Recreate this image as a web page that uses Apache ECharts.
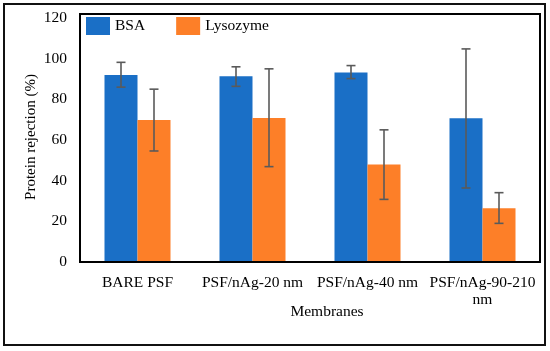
<!DOCTYPE html>
<html>
<head>
<meta charset="utf-8">
<script src="https://cdn.jsdelivr.net/npm/echarts@6/dist/echarts.min.js"></script>
<style>html,body{margin:0;padding:0;background:#fff}#c{width:550px;height:351px}</style>
</head>
<body>
<div id="c"></div>
<script>
var categories = ['BARE PSF', 'PSF/nAg-20 nm', 'PSF/nAg-40 nm', 'PSF/nAg-90-210\nnm'];
var bsa = [92, 91.3, 93.2, 70.7];
var bsaLow = [86, 86.4, 90.2, 36.4];
var bsaHigh = [98.2, 96, 96.6, 104.8];
var lyso = [69.8, 70.8, 48, 26.4];
var lysoLow = [54.6, 46.9, 30.8, 19];
var lysoHigh = [85, 95, 65, 34.1];
var yTicks = [0, 20, 40, 60, 80, 100, 120];

var FONT = '"Liberation Serif", "Times New Roman", serif';
var BLUE = '#1a6fc6';
var ORANGE = '#fd7f28';
var BAR_FRAC = 0.287;

function errSeries(low, high, side) {
  return {
    type: 'custom',
    z: 5,
    data: low.map(function (l, i) { return [i, l, high[i]]; }),
    renderItem: function (params, api) {
      var band = api.size([1, 0])[0];
      var off = side * band * BAR_FRAC / 2;
      var p1 = api.coord([api.value(0), api.value(1)]);
      var p2 = api.coord([api.value(0), api.value(2)]);
      var x = p1[0] + off;
      var cap = 4.5;
      var st = { stroke: '#5a5a5a', lineWidth: 1.6 };
      return {
        type: 'group',
        children: [
          { type: 'line', shape: { x1: x, y1: p1[1], x2: x, y2: p2[1] }, style: st },
          { type: 'line', shape: { x1: x - cap, y1: p1[1], x2: x + cap, y2: p1[1] }, style: st },
          { type: 'line', shape: { x1: x - cap, y1: p2[1], x2: x + cap, y2: p2[1] }, style: st }
        ]
      };
    }
  };
}

var chart = echarts.init(document.getElementById('c'));
chart.setOption({
  animation: false,
  backgroundColor: '#fff',
  grid: { left: 80, right: 10, top: 18, bottom: 89 },
  legend: {
    left: 86, top: 17, padding: 0,
    itemWidth: 24, itemHeight: 18, itemGap: 31,
    icon: 'rect',
    textStyle: { fontFamily: FONT, fontSize: 15.5, color: '#000', padding: [0, 0, 0, 0] },
    data: ['BSA', 'Lysozyme']
  },
  xAxis: {
    type: 'category',
    data: categories,
    axisLine: { show: false },
    axisTick: { show: false },
    axisLabel: { fontFamily: FONT, fontSize: 15.5, color: '#000', margin: 12, lineHeight: 17, interval: 0 }
  },
  yAxis: {
    type: 'value',
    min: yTicks[0], max: yTicks[yTicks.length - 1], interval: 20,
    splitLine: { show: false },
    axisLine: { show: false },
    axisTick: { show: false },
    axisLabel: { fontFamily: FONT, fontSize: 15.5, color: '#000', margin: 13 }
  },
  graphic: [
    { type: 'rect', shape: { x: 4, y: 4, width: 541, height: 341 }, style: { fill: 'none', stroke: '#111', lineWidth: 2 }, silent: true },
    { type: 'rect', shape: { x: 80, y: 14, width: 460, height: 248 }, style: { fill: 'none', stroke: '#000', lineWidth: 2 }, silent: true, z: 10 },
    { type: 'text', x: 31, y: 137, rotation: Math.PI / 2, style: { text: 'Protein rejection (%)', font: '15px ' + FONT, fill: '#000', align: 'center', verticalAlign: 'middle' } },
    { type: 'text', x: 327, y: 312, style: { text: 'Membranes', font: '15.5px ' + FONT, fill: '#000', align: 'center', verticalAlign: 'middle' } }
  ],
  series: [
    { name: 'BSA', type: 'bar', data: bsa, barWidth: (BAR_FRAC * 100) + '%', barGap: '0%', itemStyle: { color: BLUE } },
    { name: 'Lysozyme', type: 'bar', data: lyso, barWidth: (BAR_FRAC * 100) + '%', barGap: '0%', itemStyle: { color: ORANGE } },
    errSeries(bsaLow, bsaHigh, -1),
    errSeries(lysoLow, lysoHigh, 1)
  ]
});
</script>
</body>
</html>
